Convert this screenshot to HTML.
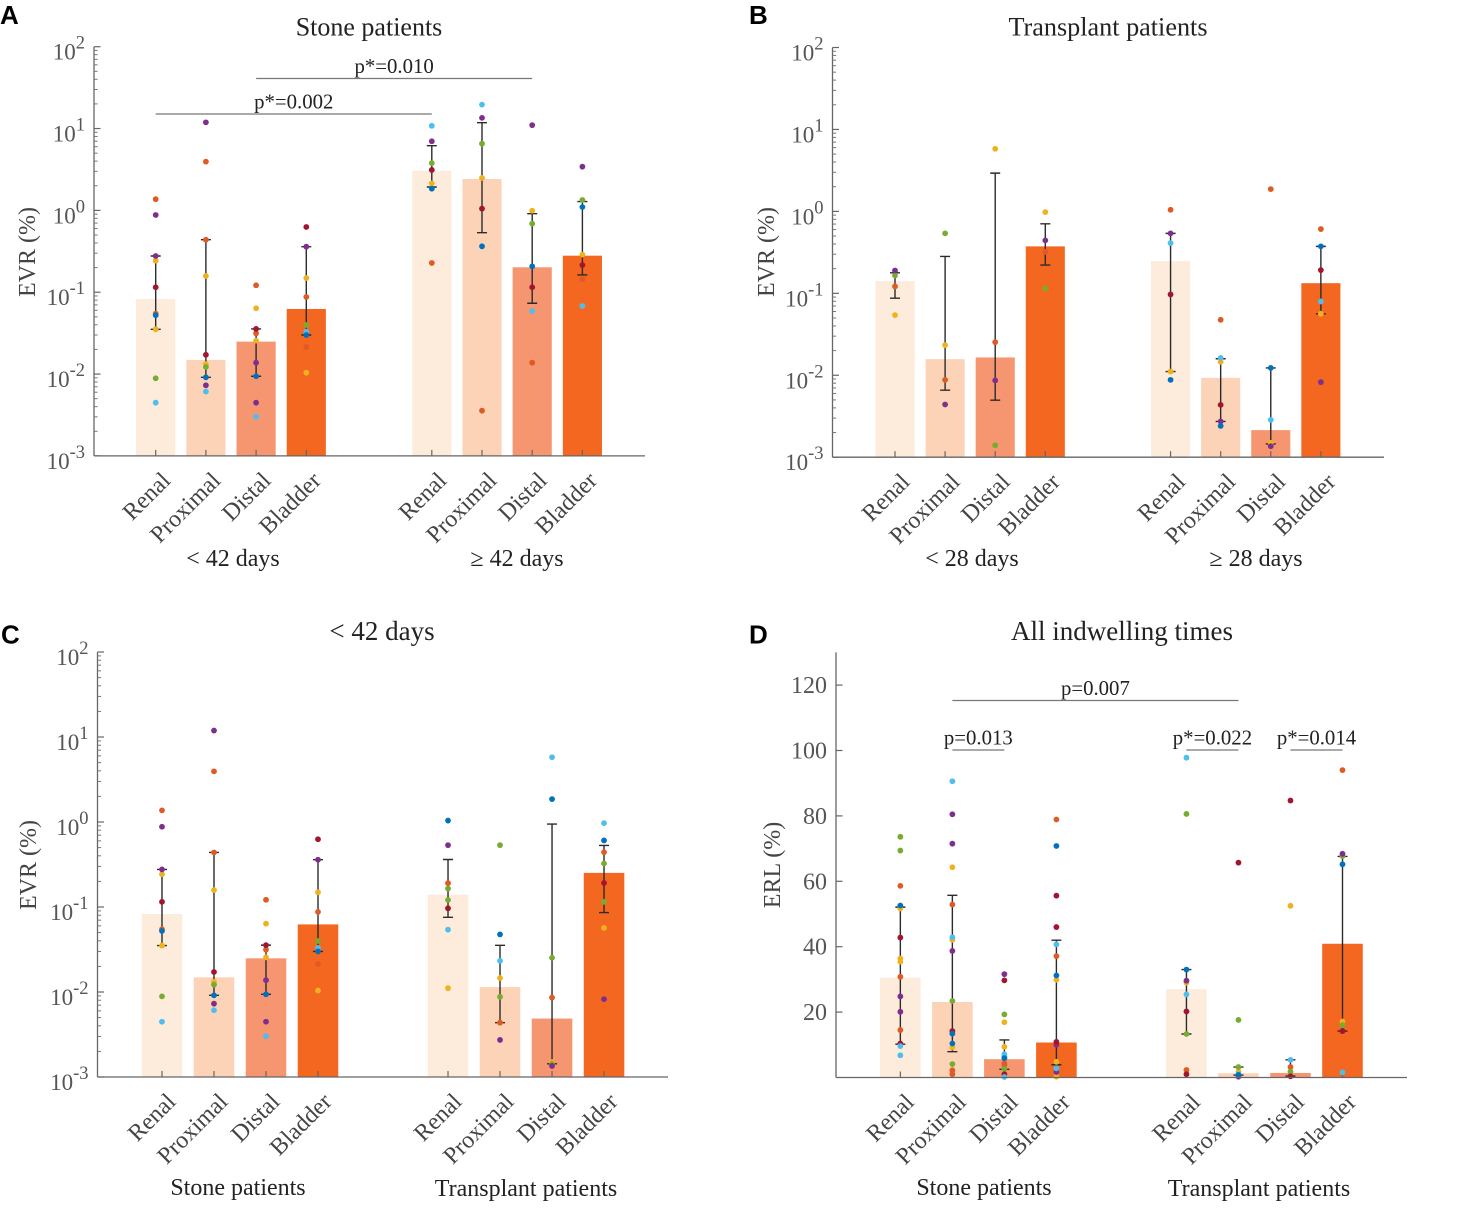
<!DOCTYPE html>
<html lang="en">
<head>
<meta charset="utf-8">
<title>EVR and ERL by stent location</title>
<style>
html,body{margin:0;padding:0;background:#fff}
svg{display:block;font-family:"Liberation Serif",serif}
</style>
</head>
<body>
<svg id="fig" xmlns="http://www.w3.org/2000/svg" width="1477" height="1229" viewBox="0 0 1477 1229"></svg>
<script>
const categories = ['Renal', 'Proximal', 'Distal', 'Bladder', 'Renal', 'Proximal', 'Distal', 'Bladder'];
const barSlots = [1, 2, 3, 4, 6.5, 7.5, 8.5, 9.5];
const logTickExponents = [-3, -2, -1, 0, 1, 2];
const linearTicks = [20, 40, 60, 80, 100, 120];
const seriesOrder = ['o', 'y', 'g', 'p', 'r', 'l', 'b'];

const panelAValues = [0.0827, 0.0149, 0.0249, 0.0624, 3.05, 2.42, 0.2017, 0.2796];
const panelAHigh = [0.277, 0.438, 0.0356, 0.36, 6.17, 11.8, 0.911, 1.28];
const panelALow = [0.0352, 0.00913, 0.0094, 0.03, 1.93, 0.534, 0.0733, 0.1625];
const panelAPoints = [
  {o:[1.37,0.0547], p:[0.879,0.277], y:[0.243,0.0352], r:[0.115], b:[0.0523], g:[0.00888], l:[0.00447]},
  {p:[11.9,0.00729], o:[3.94,0.438], y:[0.158,0.0132], r:[0.0172], g:[0.0122], b:[0.00913], l:[0.0061]},
  {o:[0.1216,0.0315], y:[0.0637,0.0256], r:[0.0356], p:[0.01377,0.00447], b:[0.0094], l:[0.00301]},
  {r:[0.627], p:[0.36], y:[0.149,0.0104], o:[0.0875,0.0214], g:[0.0398], l:[0.033], b:[0.03]},
  {l:[10.8], p:[6.99], g:[3.79], r:[3.12], y:[2.14], b:[1.84], o:[0.2277]},
  {l:[19.6], p:[13.5], g:[6.53], y:[2.49], r:[1.05], b:[0.364], o:[0.00357]},
  {p:[11.0], y:[0.99], g:[0.688], b:[0.207], r:[0.115], l:[0.059], o:[0.01377]},
  {p:[3.42], g:[1.34], b:[1.10], y:[0.288], r:[0.215], o:[0.144], l:[0.0679]}
];
const panelAComparisons = [
  {from:0, to:4, level:15.07, label:'p*=0.002'},
  {from:2, to:6, level:40.9, label:'p*=0.010'}
];

const panelBValues = [0.141, 0.01573, 0.0165, 0.374, 0.247, 0.00929, 0.00214, 0.133];
const panelBHigh = [0.178, 0.282, 2.93, 0.706, 0.539, 0.0159, 0.0123, 0.374];
const panelBLow = [0.0873, 0.00658, 0.00497, 0.221, 0.0111, 0.00273, 0.00145, 0.0562];
const panelBPoints = [
  {p:[0.19], g:[0.165], o:[0.1215], y:[0.0542]},
  {g:[0.539], y:[0.0233], o:[0.00879], p:[0.0044]},
  {y:[5.81], o:[0.02536], p:[0.00864], g:[0.0014]},
  {y:[0.98], p:[0.4426], o:[0.321], g:[0.1148]},
  {o:[1.046], p:[0.539], l:[0.41], r:[0.097], y:[0.0111], b:[0.00879]},
  {o:[0.0475], l:[0.0163], y:[0.01457], r:[0.00435], p:[0.00273], b:[0.00241]},
  {o:[1.87], b:[0.0123], l:[0.00286], y:[0.0015], p:[0.00136]},
  {o:[0.608], b:[0.374], r:[0.192], l:[0.0796], y:[0.0562], p:[0.00824]}
];

const panelCValues = panelAValues.slice(0, 4).concat([0.14, 0.01143, 0.00487, 0.252]);
const panelCHigh = panelAHigh.slice(0, 4).concat([0.362, 0.0354, 0.945, 0.53]);
const panelCLow = panelALow.slice(0, 4).concat([0.0756, 0.00436, 0.00143, 0.0859]);
const panelCPoints = panelAPoints.slice(0, 4).concat([
  {b:[1.04], p:[0.534], o:[0.1905], g:[0.165,0.1212], r:[0.0966], l:[0.0541], y:[0.0111]},
  {g:[0.534,0.00878], b:[0.0476], l:[0.0233], y:[0.01458], o:[0.00436], p:[0.00273]},
  {l:[5.78], b:[1.86], g:[0.0253,0.00142], o:[0.00861], y:[0.0015], p:[0.00135]},
  {l:[0.97], b:[0.607], o:[0.442], g:[0.325,0.1148], r:[0.192], y:[0.0567], p:[0.00824]}
]);

const panelDValues = [30.5, 23.1, 5.6, 10.7, 27, 1.3, 1.4, 40.9];
const panelDHigh = [52.1, 55.7, 11.5, 42, 33, 3.2, 5.4, 67.6];
const panelDLow = [10.2, 7.9, 2.5, 3.9, 13.3, 0.75, 0.45, 14.2];
const panelDPoints = [
  {g:[73.6,69.4], o:[58.6,30.8,14.5], y:[51.7,36.4,35.4], b:[52.6], r:[42.8,10.4], p:[24.8,20.1], l:[9.6,6.8]},
  {l:[90.6,42.9], p:[80.5,71.5,38.7], y:[64.3,42.1,9.2], o:[52.9,2.2,1.0], g:[23.4,4.1], r:[14.2], b:[13.4,10.4]},
  {p:[31.6], r:[29.7,1.0], g:[19.3,2.6], y:[16.9,9.4], l:[7.1,6.4,0.15], b:[5.9], o:[4.3,3.8]},
  {o:[78.9,37.1], b:[70.8,31.2], r:[55.6,46,10.9], l:[40.7,2.8], y:[29.9,4.8,0.25], p:[10,1.7]},
  {l:[97.8,25.4], g:[80.6,13.3], b:[33], y:[29], p:[29.6], r:[20.2,1], o:[2.3]},
  {r:[65.7], g:[17.6,3.2], y:[1.8], l:[1], b:[0.8], p:[0.25]},
  {r:[84.7,0.35], y:[52.5], l:[5.4], o:[3.2], g:[1.8]},
  {o:[94], p:[68.4], g:[67.7,16], b:[65.2], y:[17.1], r:[14.2], l:[1.6]}
];
const panelDComparisons = [
  {from:1, to:5, level:115.3, label:'p=0.007'},
  {from:1, to:2, level:100.15, label:'p=0.013'},
  {from:4, to:5, level:100.15, label:'p*=0.022'},
  {from:6, to:7, level:100.15, label:'p*=0.014'}
];

const seriesColors = {o:'#E05A24', y:'#F0B11E', g:'#77AC30', p:'#7E2F8E', r:'#A2142F', l:'#4DBEEE', b:'#0072BD'};
const barColors = ['#FDEBDC', '#FDD3B8', '#F69670', '#F46721'];
const NS = 'http://www.w3.org/2000/svg';
const fig = document.getElementById('fig');

function mk(parent, tag, attrs, text) {
  const el = document.createElementNS(NS, tag);
  for (const k in attrs) el.setAttribute(k, attrs[k]);
  if (text !== undefined) el.textContent = text;
  parent.appendChild(el);
  return el;
}

function drawPanel(cfg) {
  const g = mk(fig, 'g', {});
  
  

  const xScale = v => cfg.left + (v - cfg.xMin) / (cfg.xMax - cfg.xMin) * (cfg.right - cfg.left);
  const yScale = cfg.log
    ? v => cfg.bottom - (Math.log10(v) - (-3)) / 5 * (cfg.bottom - cfg.top)
    : v => cfg.bottom - v / 130 * (cfg.bottom - cfg.top);

  const letter = mk(g, 'text', {x: cfg.letterX, y: cfg.letterY, 'font-family': '"Liberation Sans",sans-serif', 'font-weight': 'bold', 'font-size': 26, fill: '#000'}, cfg.letter);
  
  

  const title = mk(g, 'text', {x: cfg.titleX, y: cfg.titleY, 'text-anchor': 'middle', 'font-size': cfg.titleSize, fill: '#222'}, cfg.title);
  
  

  const yTitle = mk(g, 'text', {transform: 'translate(' + cfg.yTitleX + ',' + cfg.yTitleY + ') rotate(-90)', 'text-anchor': 'middle', 'font-size': 24, fill: '#444'}, cfg.yTitle);
  
  

  cfg.values.forEach((v, i) => {
    const cx = xScale(barSlots[i]);
    const w = (xScale(1) - xScale(0)) * 0.78;
    const top = yScale(v);
    const bar = mk(g, 'rect', {x: cx - w / 2, y: top, width: w, height: cfg.bottom - top, fill: barColors[i % 4]});
    
    
  });

  cfg.values.forEach((v, i) => {
    const cx = xScale(barSlots[i]);
    const tick = mk(g, 'line', {x1: cx, x2: cx, y1: cfg.bottom, y2: cfg.bottom - 6, stroke: '#666', 'stroke-width': 1.2});
    
    
    const label = mk(g, 'text', {transform: 'translate(' + (cx + cfg.labelDX) + ',' + (cfg.bottom + 26) + ') rotate(-45)', 'text-anchor': 'end', 'font-size': 24, fill: '#444'}, categories[i]);
    
    
  });

  cfg.values.forEach((v, i) => {
    const cx = xScale(barSlots[i]);
    const hi = yScale(cfg.high[i]);
    const lo = yScale(cfg.low[i]);
    const err = mk(g, 'path', {d: 'M' + cx + ' ' + hi + 'V' + lo + 'M' + (cx - 5) + ' ' + hi + 'H' + (cx + 5) + 'M' + (cx - 5) + ' ' + lo + 'H' + (cx + 5), stroke: '#2b2b2b', 'stroke-width': 1.4, fill: 'none'});
    
    
  });

  cfg.points.forEach((bySeries, i) => {
    const cx = xScale(barSlots[i]);
    seriesOrder.forEach(key => {
      (bySeries[key] || []).forEach(val => {
        const dot = mk(g, 'circle', {cx: cx, cy: yScale(val), r: 2.9, fill: seriesColors[key]});
        
        
      });
    });
  });

  const xAxis = mk(g, 'line', {x1: cfg.left, x2: cfg.right, y1: cfg.bottom, y2: cfg.bottom, stroke: '#666', 'stroke-width': 1.3});
  
  
  const yAxis = mk(g, 'line', {x1: cfg.left, x2: cfg.left, y1: cfg.top, y2: cfg.bottom, stroke: '#666', 'stroke-width': 1.3});
  
  

  if (cfg.log) {
    logTickExponents.forEach(e => {
      const y = yScale(Math.pow(10, e));
      const t = mk(g, 'line', {x1: cfg.left, x2: cfg.left + 6.5, y1: y, y2: y, stroke: '#666', 'stroke-width': 1.2});
      
      
      const lab = mk(g, 'text', {x: cfg.left - 9, y: y + 13, 'text-anchor': 'end', 'font-size': 23, fill: '#555'}, '10');
      
      
      const sup = mk(lab, 'tspan', {dy: -11, 'font-size': 18.5}, String(e));
      
      
      if (e < 2) {
        for (let m = 2; m <= 9; m++) {
          const my = yScale(m * Math.pow(10, e));
          const mt = mk(g, 'line', {x1: cfg.left, x2: cfg.left + 3.6, y1: my, y2: my, stroke: '#777', 'stroke-width': 1});
          
          
        }
      }
    });
  } else {
    linearTicks.forEach(v => {
      const y = yScale(v);
      const t = mk(g, 'line', {x1: cfg.left, x2: cfg.left + 6.5, y1: y, y2: y, stroke: '#666', 'stroke-width': 1.2});
      
      
      const lab = mk(g, 'text', {x: cfg.left - 9, y: y + 8, 'text-anchor': 'end', 'font-size': 24, fill: '#555'}, String(v));
      
      
    });
  }

  cfg.groups.forEach(gr => {
    const t = mk(g, 'text', {x: gr.x, y: gr.y, 'text-anchor': 'middle', 'font-size': 24, fill: '#222'}, gr.label);
    
    
  });

  cfg.comparisons.forEach(c => {
    const x1 = xScale(barSlots[c.from]);
    const x2 = xScale(barSlots[c.to]);
    const y = yScale(c.level);
    const ln = mk(g, 'line', {x1: x1, x2: x2, y1: y, y2: y, stroke: '#777', 'stroke-width': 1.3});
    
    
    const t = mk(g, 'text', {x: (x1 + x2) / 2, y: y - 5.5, 'text-anchor': 'middle', 'font-size': 20.8, fill: '#222'}, c.label);
    
    
  });
}

drawPanel({id:'a', letter:'A', letterX:0, letterY:24, log:true, left:94, right:645, top:46.7, bottom:455.9, xMin:-0.229, xMax:10.747, labelDX:16,
  title:'Stone patients', titleSize:26, titleX:369, titleY:35.5, yTitle:'EVR (%)', yTitleX:35, yTitleY:252,
  values:panelAValues, high:panelAHigh, low:panelALow, points:panelAPoints, comparisons:panelAComparisons,
  groups:[{x:233, y:566, label:'< 42 days'}, {x:517, y:566, label:'≥ 42 days'}]});
drawPanel({id:'b', letter:'B', letterX:749, letterY:24, log:true, left:832.5, right:1384, top:47.5, bottom:457.2, xMin:-0.2475, xMax:10.76, labelDX:16,
  title:'Transplant patients', titleSize:26.2, titleX:1108, titleY:35.5, yTitle:'EVR (%)', yTitleX:774, yTitleY:252,
  values:panelBValues, high:panelBHigh, low:panelBLow, points:panelBPoints, comparisons:[],
  groups:[{x:972, y:566, label:'< 28 days'}, {x:1256, y:566, label:'≥ 28 days'}]});
drawPanel({id:'c', letter:'C', letterX:1, letterY:643.5, log:true, left:97.5, right:668, top:652, bottom:1077, xMin:-0.24, xMax:10.73, labelDX:15,
  title:'< 42 days', titleSize:27, titleX:382, titleY:640, yTitle:'EVR (%)', yTitleX:36, yTitleY:865,
  values:panelCValues, high:panelCHigh, low:panelCLow, points:panelCPoints, comparisons:[],
  groups:[{x:238, y:1195, label:'Stone patients'}, {x:526, y:1196, label:'Transplant patients'}]});
drawPanel({id:'d', letter:'D', letterX:749, letterY:643.5, log:false, left:836, right:1407, top:652.4, bottom:1077.5, xMin:-0.237, xMax:10.74, labelDX:15,
  title:'All indwelling times', titleSize:27, titleX:1122, titleY:640, yTitle:'ERL (%)', yTitleX:780, yTitleY:865,
  values:panelDValues, high:panelDHigh, low:panelDLow, points:panelDPoints, comparisons:panelDComparisons,
  groups:[{x:984, y:1195, label:'Stone patients'}, {x:1259, y:1196, label:'Transplant patients'}]});
</script>
</body>
</html>
